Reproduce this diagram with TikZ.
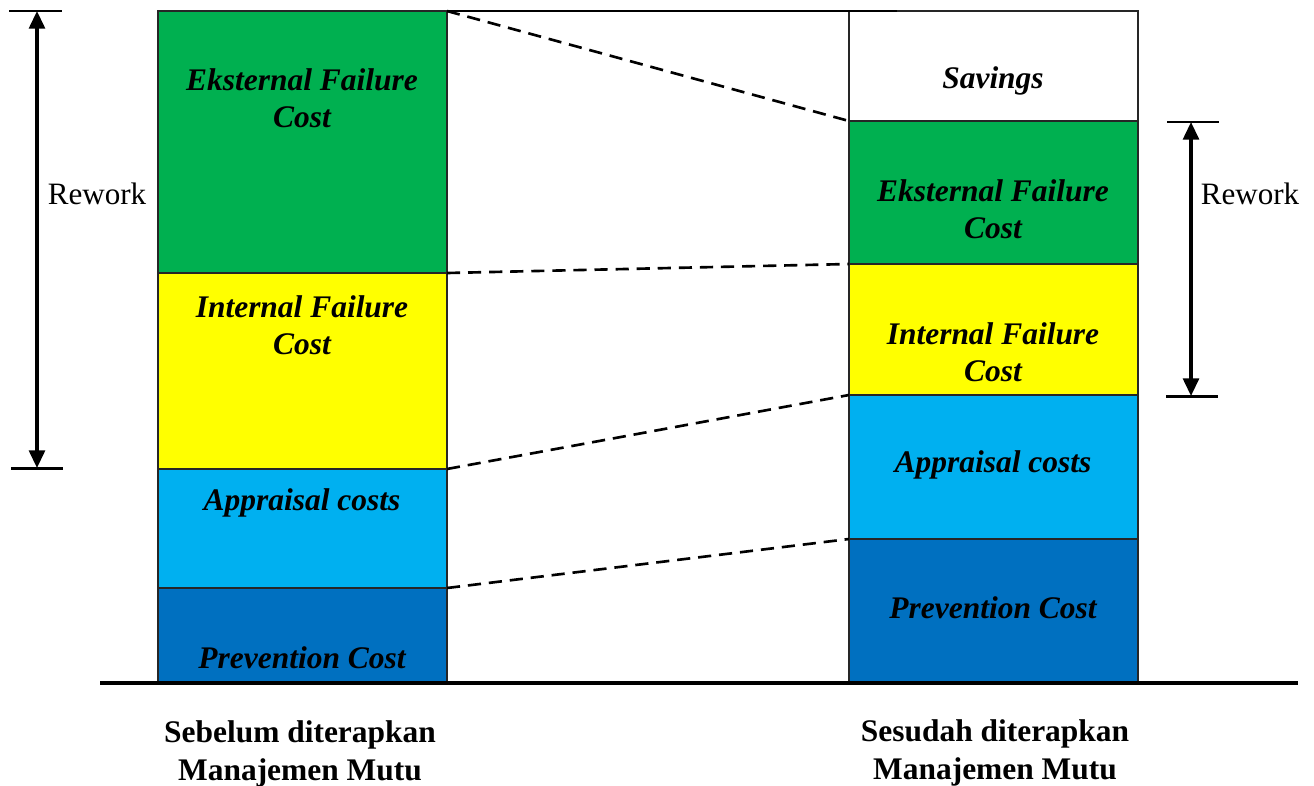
\documentclass[tikz,border=0pt]{standalone}
\usepackage{fontspec}
\setmainfont{Liberation Serif}
\usetikzlibrary{arrows.meta}
\definecolor{cgreen}{HTML}{00B050}
\definecolor{cyellow}{HTML}{FFFF00}
\definecolor{ccyan}{HTML}{00B0F0}
\definecolor{cblue}{HTML}{0070C0}
\begin{document}
\begin{tikzpicture}[x=0.02cm,y=-0.02cm,
  blk/.style={draw=black!85, line width=0.8pt, inner sep=0, outer sep=0, anchor=north west, minimum width=5.78cm},
  lbl/.style={font=\fontsize{17.9}{21}\selectfont\bfseries\itshape, align=center, inner sep=0},
  captext/.style={font=\fontsize{17.9}{21.5}\selectfont\bfseries, align=center, inner sep=0},
  rw/.style={font=\fontsize{17.7}{21}\selectfont, inner sep=0},
  dline/.style={dash pattern=on 7.5pt off 4.5pt, line width=1.5pt},
  dimline/.style={{Triangle[length=10pt,width=9pt]}-{Triangle[length=10pt,width=9pt]}, line width=1.8pt},
  tickline/.style={line width=1.7pt}]
\useasboundingbox (0,0) rectangle (1314,785);
% left column
\node[blk, fill=cgreen, minimum height=5.24cm] (L1) at (158,11) {};
\node[blk, fill=cyellow, minimum height=3.92cm] (L2) at (158,273) {};
\node[blk, fill=ccyan, minimum height=2.38cm] (L3) at (158,469) {};
\node[blk, fill=cblue, minimum height=1.9cm] (L4) at (158,588) {};
% right column
\node[blk, fill=white, minimum height=2.2cm] (R0) at (849,11) {};
\node[blk, fill=cgreen, minimum height=2.86cm] (R1) at (849,121) {};
\node[blk, fill=cyellow, minimum height=2.62cm] (R2) at (849,264) {};
\node[blk, fill=ccyan, minimum height=2.88cm] (R3) at (849,395) {};
\node[blk, fill=cblue, minimum height=2.88cm] (R4) at (849,539) {};
% top line and baseline
\coordinate (topend) at (897,11);
\draw[line width=1.4pt] (L1.north east) -- (topend);
\coordinate (b0) at (100,683);
\coordinate (b1) at (1298,683);
\draw[line width=2.2pt] (b0) -- (b1);
% dashed connectors
\draw[dline] (L1.north east) -- (R1.north west);
\draw[dline] (L2.north east) -- (R2.north west);
\draw[dline] (L3.north east) -- (R3.north west);
\draw[dline] (L4.north east) -- (R4.north west);
% labels left
\node[lbl] (t1) at (302,98) {Eksternal Failure\\Cost};
\node[lbl] (t2) at (302,325) {Internal Failure\\Cost};
\node[lbl] (t3) at (302,503) {Appraisal costs};
\node[lbl] (t4) at (302,658) {Prevention Cost};
% labels right
\node[lbl] (s0) at (993,81) {Savings};
\node[lbl] (s1) at (993,209) {Eksternal Failure\\Cost};
\node[lbl] (s2) at (993,352) {Internal Failure\\Cost};
\node[lbl] (s3) at (993,465) {Appraisal costs};
\node[lbl] (s4) at (993,608) {Prevention Cost};
% captions
\node[captext] (c1) at (300,754) {Sebelum diterapkan\\Manajemen Mutu};
\node[captext] (c2) at (995,753) {Sesudah diterapkan\\Manajemen Mutu};
% rework dimension left
\coordinate (la) at (37,11);
\coordinate (lb) at (37,468);
\coordinate (la1) at (9,11);
\coordinate (la2) at (62,11);
\coordinate (lb1) at (11,468);
\coordinate (lb2) at (63,468);
\draw[tickline] (la1) -- (la2);
\draw[tickline] (lb1) -- (lb2);
\draw[dimline] (la) -- (lb);
\node[rw] (rw1) at (97,194) {Rework};
% rework dimension right
\coordinate (ra) at (1191,122);
\coordinate (rb) at (1191,396);
\coordinate (ra1) at (1167,122);
\coordinate (ra2) at (1219,122);
\coordinate (rb1) at (1166,396);
\coordinate (rb2) at (1218,396);
\draw[tickline] (ra1) -- (ra2);
\draw[tickline] (rb1) -- (rb2);
\draw[dimline] (ra) -- (rb);
\node[rw] (rw2) at (1250,194) {Rework};
\end{tikzpicture}
\end{document}
